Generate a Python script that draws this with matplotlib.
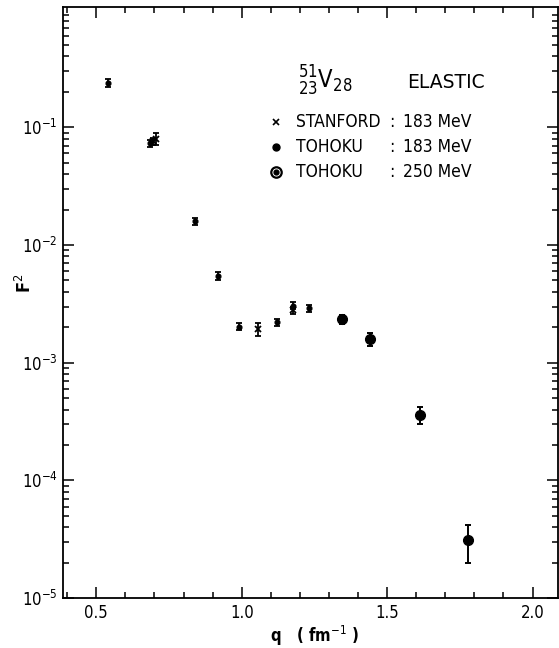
import numpy as np
import matplotlib
matplotlib.use("Agg")
import matplotlib.pyplot as plt
from matplotlib.ticker import FixedLocator, LogLocator, MultipleLocator, NullFormatter

plt.rcParams['font.family'] = ['DejaVu Sans']
plt.rcParams['font.stretch'] = 'condensed'
plt.rcParams['mathtext.fontset'] = 'custom'
plt.rcParams['mathtext.rm'] = 'DejaVu Sans:stretch=condensed'
plt.rcParams['mathtext.it'] = 'DejaVu Sans:stretch=condensed'

# Tohoku 183 MeV (small dots)
tohoku183_q = [0.54, 0.685, 0.84, 0.92, 0.99, 1.12, 1.175, 1.23]
tohoku183_f2 = [0.238, 0.073, 0.0160, 0.00546, 0.00203, 0.00221, 0.00305, 0.00291]
tohoku183_err = [0.017, 0.005, 0.0011, 0.0004, 0.00015, 0.00016, 0.0002, 0.0002]

# Stanford 183 MeV (crosses)
stanford_q = [0.695, 0.705, 1.057, 1.175]
stanford_f2 = [0.076, 0.080, 0.00193, 0.00280]
stanford_err = [0.005, 0.009, 0.00025, 0.0002]

# Tohoku 250 MeV (large dots)
tohoku250_q = [1.346, 1.442, 1.613, 1.777]
tohoku250_f2 = [0.00234, 0.00158, 0.000361, 0.000031]
tohoku250_err = [0.0002, 0.0002, 0.00006, 0.000011]

x_ticks = [0.5, 1.0, 1.5, 2.0]
x_ticklabels = ["0.5", "1.0", "1.5", "2.0"]
y_ticks = [1e-5, 1e-4, 1e-3, 1e-2, 1e-1]

fig = plt.figure(figsize=(5.59, 6.48), dpi=100)
ax = fig.add_axes([0.113, 0.077, 0.885, 0.912])

ax.errorbar(tohoku183_q, tohoku183_f2, yerr=tohoku183_err, fmt='o', ms=3.4,
            color='black', elinewidth=1.3, capsize=2, capthick=1.3)
ax.errorbar(stanford_q, stanford_f2, yerr=stanford_err, fmt='x', ms=4,
            mew=1.3, color='black', elinewidth=1.3, capsize=2, capthick=1.3)
ax.errorbar(tohoku250_q, tohoku250_f2, yerr=tohoku250_err, fmt='o', ms=7,
            color='black', elinewidth=1.4, capsize=2.5, capthick=1.4)

ax.set_yscale('log')
ax.set_xlim(0.386, 2.087)
ax.set_ylim(1e-5, 1.05)

ax.xaxis.set_major_locator(FixedLocator(x_ticks))
ax.set_xticklabels(x_ticklabels, fontsize=12)
ax.xaxis.set_minor_locator(MultipleLocator(0.1))
ax.yaxis.set_major_locator(FixedLocator(y_ticks))
ax.set_yticklabels([r'$10^{%d}$' % int(np.log10(v)) for v in y_ticks], fontsize=12)
ax.yaxis.set_minor_locator(LogLocator(base=10, subs=np.arange(2, 10)))
ax.yaxis.set_minor_formatter(NullFormatter())

ax.tick_params(which='both', direction='in', top=True, right=True, width=1.1)
ax.tick_params(which='major', length=8, pad=4)
ax.tick_params(which='minor', length=4)
for s in ax.spines.values():
    s.set_linewidth(1.3)

ax.text(0.509, -0.064, r'q   ( fm$^{-1}$ )', transform=ax.transAxes,
        ha='center', va='center', fontsize=12, fontweight='bold')
ax.text(-0.077, 0.533, r'F$^{2}$', transform=ax.transAxes, rotation=90,
        ha='center', va='center', fontsize=13, fontweight='bold')

# nucleus label and legend drawn by hand
ax.text(0.529, 0.876, r'${}^{51}_{23}\mathrm{V}_{28}$', transform=ax.transAxes,
        ha='center', va='center', fontsize=17)
ax.text(0.695, 0.873, 'ELASTIC', transform=ax.transAxes,
        ha='left', va='center', fontsize=13.5, fontstretch='normal')

rows_y = [0.805, 0.763, 0.721]
names = ['STANFORD', 'TOHOKU', 'TOHOKU']
energies = ['183 MeV', '183 MeV', '250 MeV']
ax.plot([0.430], [rows_y[0]], 'x', color='black', ms=4, mew=1.2, transform=ax.transAxes)
ax.plot([0.430], [rows_y[1]], 'o', color='black', ms=5, transform=ax.transAxes)
ax.plot([0.430], [rows_y[2]], 'o', mfc='white', mec='black', ms=7.5, mew=1.6, transform=ax.transAxes)
ax.plot([0.430], [rows_y[2]], 'o', color='black', ms=3.5, transform=ax.transAxes)
for y, name, en in zip(rows_y, names, energies):
    ax.text(0.471, y, name, transform=ax.transAxes, ha='left', va='center', fontsize=12.5)
    ax.text(0.665, y, ':', transform=ax.transAxes, ha='center', va='center', fontsize=12.5)
    ax.text(0.687, y, en, transform=ax.transAxes, ha='left', va='center', fontsize=12.5)

fig.savefig('out.png', dpi=100)
